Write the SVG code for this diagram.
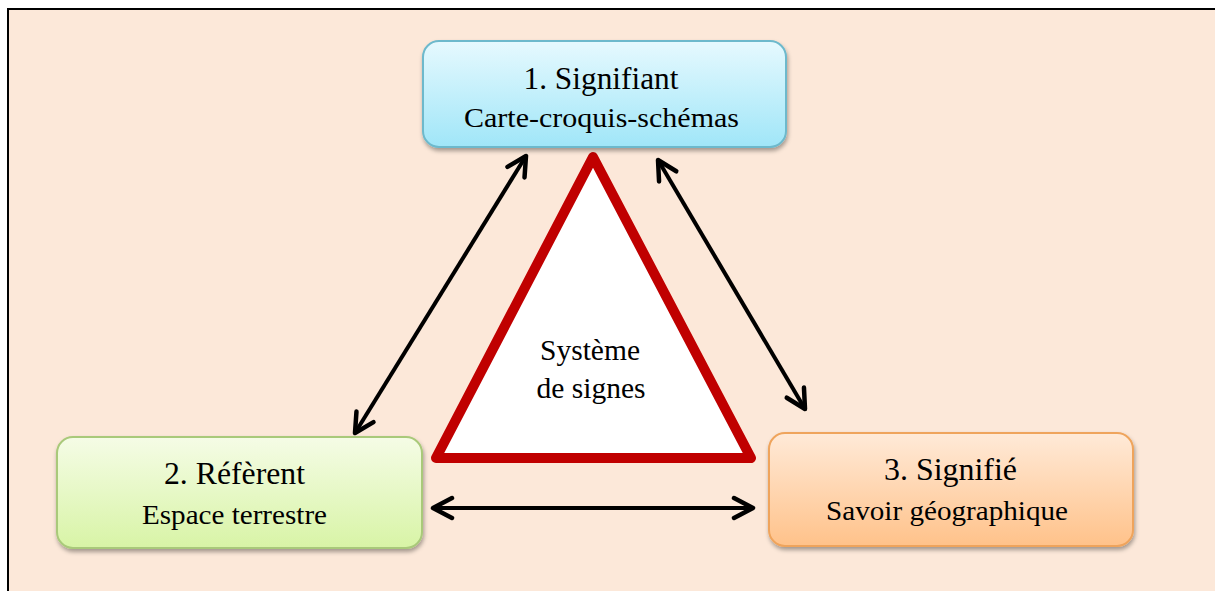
<svg xmlns="http://www.w3.org/2000/svg" width="1215" height="591" viewBox="0 0 1215 591">
<defs>
<linearGradient id="g1" x1="0" y1="0" x2="0" y2="1"><stop offset="0" stop-color="#E6F9FE"/><stop offset="1" stop-color="#A0E6F8"/></linearGradient>
<linearGradient id="g2" x1="0" y1="0" x2="0" y2="1"><stop offset="0" stop-color="#F5FCE6"/><stop offset="1" stop-color="#D8F4A6"/></linearGradient>
<linearGradient id="g3" x1="0" y1="0" x2="0" y2="1"><stop offset="0" stop-color="#FFEAD8"/><stop offset="1" stop-color="#FFC28A"/></linearGradient>
<filter id="sh" x="-10%" y="-10%" width="120%" height="130%"><feDropShadow dx="1" dy="3" stdDeviation="2" flood-color="#000" flood-opacity="0.35"/></filter>
<marker id="ah" markerUnits="userSpaceOnUse" markerWidth="30" markerHeight="30" refX="0" refY="0" orient="auto-start-reverse" overflow="visible">
<path d="M-19,-10 L0,0 L-19,10" fill="none" stroke="#000" stroke-width="4.5" stroke-linecap="round" stroke-linejoin="round"/>
</marker>
</defs>
<style>
.box{stroke-width:2;filter:url(#sh)}
text{font-family:'Liberation Serif','Times New Roman',serif;fill:#000;text-anchor:middle}
.title{font-size:31px}
.sub{font-size:27px}
.conn{stroke:#000;stroke-width:4;fill:none;marker-start:url(#ah);marker-end:url(#ah)}
</style>
<rect x="0" y="0" width="1215" height="591" fill="#FFFFFF"/>
<rect x="8" y="9" width="1207" height="582" fill="#FCE8D9"/>
<path d="M8,591 L8,9 L1215,9" fill="none" stroke="#000" stroke-width="2"/>

<g id="triangle" font-family="Liberation Serif, serif">
<path d="M593,157 L751,458 L436,458 Z" fill="#FFFFFF" stroke="#C00000" stroke-width="10" stroke-linejoin="round"/>
<text x="590" y="360" font-size="29" textLength="100" lengthAdjust="spacingAndGlyphs">Système</text>
<text x="591" y="398" font-size="29" textLength="109" lengthAdjust="spacingAndGlyphs">de signes</text>
</g>

<g id="connectors">
<line class="conn" x1="355" y1="433" x2="526" y2="156"/>
<line class="conn" x1="658" y1="160" x2="805" y2="409"/>
<line class="conn" x1="433" y1="508" x2="753" y2="508"/>
</g>

<g id="n1" font-family="Liberation Serif, serif">
<rect class="box" x="423" y="41" width="363" height="106" rx="16" fill="url(#g1)" stroke="#6DB9CC"/>
<text class="title" x="601" y="89" textLength="155" lengthAdjust="spacingAndGlyphs">1. Signifiant</text>
<text class="sub" x="601.5" y="127" textLength="275" lengthAdjust="spacingAndGlyphs">Carte-croquis-schémas</text>
</g>

<g id="n2" font-family="Liberation Serif, serif">
<rect class="box" x="57" y="437" width="365" height="111" rx="16" fill="url(#g2)" stroke="#A9C97A"/>
<text class="title" x="234.5" y="484" textLength="141" lengthAdjust="spacingAndGlyphs">2. Réfèrent</text>
<text class="sub" x="234.5" y="524" textLength="185" lengthAdjust="spacingAndGlyphs">Espace terrestre</text>
</g>

<g id="n3" font-family="Liberation Serif, serif">
<rect class="box" x="769" y="433" width="364" height="113" rx="16" fill="url(#g3)" stroke="#EFA45C"/>
<text class="title" x="950.5" y="480" textLength="133" lengthAdjust="spacingAndGlyphs">3. Signifié</text>
<text class="sub" x="947" y="520" textLength="242" lengthAdjust="spacingAndGlyphs">Savoir géographique</text>
</g>
</svg>
